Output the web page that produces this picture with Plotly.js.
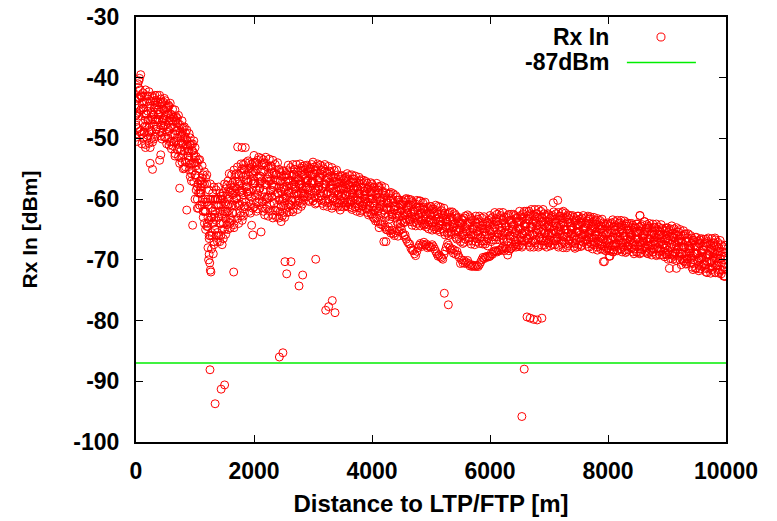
<!DOCTYPE html>
<html><head><meta charset="utf-8">
<script src="https://cdn.plot.ly/plotly-3.0.1.min.js"></script>
<style>html,body{margin:0;padding:0;background:#fff}#chart{width:777px;height:521px}</style>
</head><body><div id="chart"></div>
<script>
// Distance to LTP/FTP [m] sample positions (shared by the four reading passes)
const distance = [
0,20,40,60,80,100,120,140,160,180,200,220,240,260,280,300,320,340,360,380,400,420,440,460,480,
500,520,540,560,580,600,620,640,660,680,700,720,740,760,780,800,820,840,860,880,900,920,940,960,980,
1000,1020,1040,1060,1080,1100,1120,1140,1160,1180,1200,1220,1240,1260,1280,1300,1320,1340,1360,1380,1400,1420,1440,1460,1480,
1500,1520,1540,1560,1580,1600,1620,1640,1660,1680,1700,1720,1740,1760,1780,1800,1820,1840,1860,1880,1900,1920,1940,1960,1980,
2000,2020,2040,2060,2080,2100,2120,2140,2160,2180,2200,2220,2240,2260,2280,2300,2320,2340,2360,2380,2400,2420,2440,2460,2480,
2500,2520,2540,2560,2580,2600,2620,2640,2660,2680,2700,2720,2740,2760,2780,2800,2820,2840,2860,2880,2900,2920,2940,2960,2980,
3000,3020,3040,3060,3080,3100,3120,3140,3160,3180,3200,3220,3240,3260,3280,3300,3320,3340,3360,3380,3400,3420,3440,3460,3480,
3500,3520,3540,3560,3580,3600,3620,3640,3660,3680,3700,3720,3740,3760,3780,3800,3820,3840,3860,3880,3900,3920,3940,3960,3980,
4000,4020,4040,4060,4080,4100,4120,4140,4160,4180,4200,4220,4240,4260,4280,4300,4320,4340,4360,4380,4400,4420,4440,4460,4480,
4500,4520,4540,4560,4580,4600,4620,4640,4660,4680,4700,4720,4740,4760,4780,4800,4820,4840,4860,4880,4900,4920,4940,4960,4980,
5000,5020,5040,5060,5080,5100,5120,5140,5160,5180,5200,5220,5240,5260,5280,5300,5320,5340,5360,5380,5400,5420,5440,5460,5480,
5500,5520,5540,5560,5580,5600,5620,5640,5660,5680,5700,5720,5740,5760,5780,5800,5820,5840,5860,5880,5900,5920,5940,5960,5980,
6000,6020,6040,6060,6080,6100,6120,6140,6160,6180,6200,6220,6240,6260,6280,6300,6320,6340,6360,6380,6400,6420,6440,6460,6480,
6500,6520,6540,6560,6580,6600,6620,6640,6660,6680,6700,6720,6740,6760,6780,6800,6820,6840,6860,6880,6900,6920,6940,6960,6980,
7000,7020,7040,7060,7080,7100,7120,7140,7160,7180,7200,7220,7240,7260,7280,7300,7320,7340,7360,7380,7400,7420,7440,7460,7480,
7500,7520,7540,7560,7580,7600,7620,7640,7660,7680,7700,7720,7740,7760,7780,7800,7820,7840,7860,7880,7900,7920,7940,7960,7980,
8000,8020,8040,8060,8080,8100,8120,8140,8160,8180,8200,8220,8240,8260,8280,8300,8320,8340,8360,8380,8400,8420,8440,8460,8480,
8500,8520,8540,8560,8580,8600,8620,8640,8660,8680,8700,8720,8740,8760,8780,8800,8820,8840,8860,8880,8900,8920,8940,8960,8980,
9000,9020,9040,9060,9080,9100,9120,9140,9160,9180,9200,9220,9240,9260,9280,9300,9320,9340,9360,9380,9400,9420,9440,9460,9480,
9500,9520,9540,9560,9580,9600,9620,9640,9660,9680,9700,9720,9740,9760,9780,9800,9820,9840,9860,9880,9900,9920,9940,9960,9980
];
// Rx In [dBm], reading pass 1
const rxPass1 = [
-43.8,-48.2,-43.2,-48.9,-45.3, -43.2,-50.0,-46.0,-42.0,-48.0, -45.5,-50.8,-43.8,-48.8,-46.8, -50.1,-44.5,-48.5,-42.9,-46.9, -45.7,-49.6,-44.3,-48.3,-45.3,
-43.8,-48.9,-46.0,-51.1,-48.2, -46.1,-51.2,-48.2,-45.3,-50.4, -48.7,-53.0,-47.7,-52.0,-50.7, -55.0,-49.7,-53.9,-48.6,-52.9, -52.0,-56.3,-51.0,-55.3,-52.4,
-54,-58.5,-54,-61.5,-57, -59,-54.5,-62,-57.5,-65, -60.5,-63,-58.5,-66,-61.5, -64,-58,-62,-66,-60, -63,-67,-61,-65,-59,
-57.5,-63.3,-59.2,-65.0,-60.8, -57.7,-63.5,-59.3,-55.2,-61.0, -58.3,-63.2,-56.0,-60.8,-58.7, -63.5,-56.3,-61.2,-54.0,-58.8, -57.2,-62.0,-54.8,-59.7,-55.5,
-55.3,-59.4,-54.5,-61.6,-56.6, -58.2,-53.3,-60.4,-55.5,-62.6, -57.6,-59.7,-54.8,-61.9,-57.0, -59.6,-53.6,-57.7,-61.8,-55.9, -59.0,-63.1,-57.1,-61.2,-55.3,
-55.4,-60.7,-57.1,-62.2,-58.7, -56.1,-61.1,-57.7,-54.3,-59.2, -57.1,-61.0,-55.5,-59.1,-57.6, -61.2,-56.0,-59.5,-54.5,-58.0, -56.9,-60.2,-55.3,-58.6,-56.0,
-55.8,-58.9,-55.2,-60.6,-56.8, -58.0,-54.4,-59.5,-56.0,-61.1, -57.5,-59.1,-55.6,-60.6,-57.2, -59.0,-54.8,-57.7,-60.4,-56.4, -58.6,-61.3,-57.3,-60.1,-56.2,
-56.1,-59.8,-57.4,-61.1,-58.8, -56.8,-60.9,-58.5,-56.0,-59.7, -58.2,-61.3,-57.2,-60.2,-59.0, -62.2,-58.0,-61.1,-56.9,-59.9, -59.2,-62.2,-58.1,-61.1,-58.8,
-57.5,-60.6,-58.7,-61.8,-59.9, -58.5,-61.6,-59.7,-57.8,-60.9, -59.8,-62.4,-59.0,-61.6,-60.7, -63.3,-59.9,-62.5,-59.1,-61.7, -61.1,-63.7,-60.2,-62.8,-61.0,
-60.9,-62.7,-60.5,-63.7,-61.5, -62.3,-60.0,-63.3,-61.0,-64.3, -62.0,-63.0,-60.8,-64.0,-61.9, -63.0,-60.3,-62.2,-64.0,-61.4, -62.8,-64.6,-61.9,-63.8,-61.2,
-61.2,-63.9,-62.2,-64.9,-63.3, -61.9,-64.7,-63.0,-61.3,-64.1, -63.1,-65.4,-62.3,-64.6,-63.8, -66.0,-63.0,-65.4,-62.1,-64.6, -64.0,-66.3,-63.2,-65.4,-63.9,
-64.0,-66.0,-63.5,-67.1,-64.6, -65.3,-62.6,-66.4,-63.9,-67.4, -64.9,-65.9,-63.5,-67.0,-64.5, -65.8,-62.8,-64.8,-66.9,-63.9, -65.4,-67.4,-64.4,-66.5,-63.5,
-62.7,-65.7,-63.7,-66.7,-64.7, -63.2,-66.2,-64.2,-62.2,-65.2, -64.0,-66.5,-63.0,-65.5,-64.5, -67.0,-63.5,-66.0,-62.5,-65.0, -64.2,-66.7,-63.2,-65.7,-63.7,
-63.7,-66.3,-63.0,-67.6,-64.3, -65.3,-62.0,-66.6,-63.3,-67.9, -64.6,-65.9,-62.7,-67.2,-64.0, -65.6,-61.7,-64.3,-66.9,-63.0, -65.0,-67.6,-63.7,-66.3,-62.4,
-62.6,-66.2,-63.8,-67.5,-65.1, -63.3,-66.9,-64.5,-62.2,-65.8, -64.3,-67.3,-63.1,-66.2,-65.0, -68.0,-63.8,-66.8,-62.7,-65.7, -64.8,-67.8,-63.6,-66.7,-64.3,
-64.2,-66.4,-63.7,-67.6,-64.9, -65.7,-63.1,-66.8,-64.2,-67.9, -65.2,-66.4,-63.8,-67.5,-64.8, -66.1,-63.2,-65.4,-67.6,-64.4, -66.1,-68.3,-65.0,-67.3,-64.1,
-63.9,-67.2,-65.0,-68.4,-66.2, -64.5,-67.8,-65.6,-63.5,-66.8, -65.4,-68.2,-64.3,-67.2,-66.1, -68.8,-65.0,-67.7,-64.0,-66.7, -65.9,-68.7,-64.8,-67.6,-65.4,
-65.5,-67.7,-62.7,-68.8,-66.1, -66.9,-63.7,-68.0,-65.4,-69.0, -66.5,-67.6,-64.8,-68.7,-65.9, -67.4,-64.1,-66.4,-68.6,-65.3, -67.0,-69.2,-65.9,-68.1,-64.8,
-64.7,-68.4,-66.1,-69.8,-67.4, -65.7,-69.4,-67.1,-64.7,-68.4, -66.9,-70.0,-66.0,-69.0,-67.9, -70.3,-66.9,-69.8,-65.7,-68.9, -68.1,-71.2,-66.8,-70.0,-67.8,
-67.8,-70.2,-67.3,-71.5,-68.6, -69.5,-66.6,-70.8,-67.8,-72.1, -69.1,-70.4,-67.4,-71.6,-68.7, -70.2,-66.7,-69.1,-71.6,-68.0, -69.8,-72.3,-68.7,-71.2,-67.6
];
// Rx In [dBm], reading pass 2
const rxPass2 = [
-47.8,-43.4,-48.4,-43.4,-39.5, -50.9,-45.0,-49.0,-47.0,-43.0, -49.5,-44.7,-51.5,-46.5,-43.9, -47.7,-42.9,-49.3,-45.3,-46.9, -48.9,-43.5,-47.4,-45.2,-49.8,
-47.8,-44.9,-50.0,-47.1,-44.2, -51.7,-47.2,-50.6,-49.3,-46.4, -51.9,-48.2,-54.1,-50.4,-48.3, -52.6,-48.1,-54.7,-51.0,-52.9, -55.2,-49.9,-54.2,-52.1,-57.2,
-60,-54.5,-58,-53.5,-61, -59,-57.5,-63,-55.5,-62, -57.5,-61,-66.5,-60,-65.5, -59,-63,-65,-61,-67, -58,-62,-66,-60,-64,
-62.5,-58.3,-64.2,-60.0,-55.8, -64.7,-58.5,-62.3,-60.2,-56.0, -62.3,-57.2,-64.0,-58.8,-55.7, -60.5,-54.3,-62.2,-57.0,-58.8, -61.2,-54.0,-58.8,-55.7,-61.5,
-61.3,-55.4,-58.5,-53.6,-60.6, -58.2,-56.3,-61.4,-53.5,-59.6, -54.6,-57.7,-62.8,-55.9,-61.0, -54.6,-58.6,-60.7,-56.8,-62.9, -54.0,-58.1,-62.1,-56.2,-60.3,
-59.9,-56.3,-61.5,-57.9,-54.4, -62.1,-56.9,-60.2,-58.4,-55.1, -60.3,-56.3,-61.7,-57.6,-55.3, -59.0,-54.6,-60.2,-56.6,-58.0, -59.6,-54.8,-58.0,-56.0,-59.9,
-60.3,-55.9,-58.2,-54.6,-59.8, -58.0,-56.5,-60.2,-54.6,-59.0, -55.4,-57.6,-61.2,-56.4,-60.0, -55.5,-58.3,-59.8,-57.0,-61.1, -55.2,-58.0,-60.7,-56.7,-59.5,
-59.1,-56.8,-60.5,-58.2,-55.8, -61.3,-57.9,-60.4,-59.0,-56.7, -60.7,-57.8,-62.0,-59.1,-57.4, -60.4,-56.8,-61.7,-58.7,-60.0, -61.6,-57.4,-60.5,-58.8,-62.4,
-60.0,-58.1,-61.2,-59.3,-57.4, -62.0,-58.1,-60.2,-60.3,-58.7, -61.8,-59.4,-63.0,-60.6,-59.2, -61.8,-58.9,-62.9,-60.6,-61.7, -63.1,-59.7,-62.3,-60.9,-64.0,
-63.6,-60.9,-62.3,-60.1,-63.3, -62.3,-61.4,-63.7,-60.1,-62.9, -60.7,-62.1,-64.4,-61.3,-63.6, -60.3,-62.3,-63.4,-61.6,-64.3, -60.5,-62.4,-64.2,-61.6,-63.4,
-63.4,-61.7,-64.5,-62.8,-61.0, -65.1,-62.5,-64.4,-63.6,-61.9, -64.9,-62.7,-65.9,-63.7,-62.5, -64.8,-62.1,-65.8,-63.7,-64.7, -65.8,-62.7,-65.0,-63.7,-66.5,
-67.0,-64.0,-65.5,-63.1,-66.6, -65.4,-64.4,-66.9,-62.9,-65.9, -63.5,-65.0,-67.5,-64.0,-66.5, -63.3,-65.3,-66.3,-64.4,-67.4, -62.9,-64.9,-66.9,-63.9,-66.0,
-65.2,-63.2,-66.2,-64.2,-62.2, -66.7,-63.7,-65.7,-64.7,-62.7, -66.0,-63.5,-67.0,-64.5,-63.0, -65.5,-62.5,-66.5,-64.0,-65.0, -66.2,-62.7,-65.2,-63.7,-66.7,
-67.6,-63.7,-65.6,-62.4,-66.9, -65.3,-64.0,-67.2,-62.0,-65.9, -62.7,-64.6,-67.9,-63.3,-66.6, -62.4,-65.0,-66.3,-63.7,-67.6, -61.7,-64.3,-66.9,-63.0,-65.6,
-65.6,-63.2,-66.8,-64.5,-62.1, -67.5,-63.9,-66.3,-65.2,-62.8, -66.7,-63.7,-68.0,-65.0,-63.2, -66.2,-62.6,-67.4,-64.5,-65.7, -67.2,-63.0,-66.0,-64.3,-67.9,
-67.5,-64.2,-65.8,-63.1,-67.1, -65.7,-64.7,-67.4,-62.8,-66.3, -63.2,-65.0,-68.2,-64.5,-67.1, -63.5,-65.9,-66.9,-64.9,-68.2, -63.3,-65.6,-67.8,-64.5,-66.8,
-66.6,-64.4,-67.7,-65.6,-63.4, -68.4,-65.1,-67.3,-66.2,-64.0, -67.6,-64.9,-68.7,-66.1,-64.4, -67.2,-63.9,-68.3,-65.6,-66.7, -68.1,-64.3,-67.1,-65.4,-68.7,
-68.8,-65.5,-67.1,-64.4,-68.3, -66.9,-65.8,-68.6,-64.2,-67.6, -64.8,-66.5,-69.2,-65.5,-68.2, -64.7,-67.1,-68.0,-65.8,-69.2, -64.2,-66.5,-68.6,-65.3,-67.6,
-67.7,-65.4,-69.0,-66.7,-64.4, -69.9,-66.4,-68.9,-67.7,-65.4, -69.4,-66.5,-70.8,-67.8,-66.0, -69.3,-65.7,-70.6,-67.7,-68.9, -70.5,-66.4,-69.4,-67.6,-71.4,
-71.4,-67.8,-69.7,-66.7,-71.0, -69.5,-68.4,-71.4,-66.6,-70.3, -67.3,-69.2,-72.2,-68.1,-71.1, -67.2,-69.7,-70.9,-68.6,-72.2, -66.8,-69.3,-71.7,-68.2,-70.6
];
// Rx In [dBm], reading pass 3
const rxPass3 = [
-46.2,-50.5,-41.6,-45.6,-48.7, -44.3,-42.5,-49.0,-51.0,-44.0, -47.0,-42.3,-48.6,-45.7,-50.6, -43.3,-46.9,-48.5,-44.5,-46.1, -42.9,-47.8,-50.1,-44.0,-46.8,
-46.2,-50.9,-44.8,-48.7,-50.6, -46.9,-45.2,-50.6,-52.5,-47.2, -49.9,-46.2,-51.7,-49.6,-53.9, -48.2,-52.1,-53.9,-50.2,-52.1, -49.2,-54.3,-57.0,-50.9,-54.0,
-56,-53,-61.5,-59,-53.5, -58,-56.5,-62,-60.5,-56.5, -64.5,-60,-63.5,-57.5,-63, -60,-67,-65,-58.5,-61, -66,-64,-59.5,-67.5,-62,
-60.5,-65.8,-57.7,-62.0,-63.8, -58.7,-56.0,-62.3,-64.2,-57.0, -59.8,-54.7,-61.0,-57.8,-62.7, -55.0,-59.3,-61.2,-56.0,-57.8, -53.7,-59.5,-62.3,-54.2,-57.5,
-57.3,-53.9,-62.0,-59.1,-53.1, -57.2,-55.3,-60.4,-58.5,-54.1, -61.6,-56.7,-59.8,-53.4,-58.5, -55.6,-62.6,-60.7,-54.3,-56.9, -62.0,-60.1,-55.6,-63.7,-58.3,
-58.1,-63.0,-55.8,-59.6,-61.3, -57.0,-54.8,-60.2,-61.7,-55.9, -58.3,-54.3,-59.4,-56.9,-60.6, -54.9,-58.2,-59.5,-55.9,-57.3, -54.4,-58.5,-60.4,-55.0,-57.3,
-57.3,-54.7,-60.8,-58.7,-54.2, -57.3,-55.8,-59.5,-58.2,-55.0, -60.4,-56.9,-59.1,-54.6,-58.2, -56.2,-61.1,-59.8,-55.3,-57.1, -60.6,-59.3,-56.3,-61.8,-58.2,
-57.9,-61.3,-56.6,-59.3,-60.6, -57.6,-56.1,-60.1,-61.4,-57.3, -59.1,-56.2,-60.2,-58.4,-61.4, -57.0,-59.8,-61.1,-58.1,-59.4, -57.1,-60.7,-62.6,-57.9,-60.0,
-59.0,-61.9,-58.0,-60.3,-61.4, -59.0,-57.9,-61.2,-62.3,-58.9, -60.5,-58.1,-61.5,-60.1,-62.7, -59.1,-61.4,-62.5,-60.1,-61.2, -59.4,-62.5,-64.1,-60.1,-62.0,
-61.8,-60.3,-63.9,-62.7,-59.9, -61.8,-60.9,-63.4,-62.4,-60.4, -63.8,-61.7,-63.0,-60.2,-62.6, -61.3,-64.4,-63.6,-60.6,-61.8, -64.1,-63.3,-61.3,-64.9,-62.5,
-62.5,-65.1,-61.6,-63.7,-64.6, -62.4,-61.2,-64.2,-65.4,-62.3, -63.7,-61.5,-64.5,-63.3,-65.6, -62.3,-64.4,-65.4,-63.1,-64.1, -62.4,-65.2,-66.6,-63.0,-64.8,
-65.0,-63.3,-67.3,-65.8,-62.8, -64.9,-63.9,-66.4,-65.4,-63.2, -66.9,-64.5,-66.0,-62.8,-65.3, -63.8,-67.3,-66.3,-63.1,-64.9, -66.9,-65.9,-63.7,-67.7,-65.0,
-64.2,-67.0,-63.0,-65.2,-66.2, -63.7,-62.5,-65.7,-66.7,-63.2, -64.7,-62.2,-65.5,-64.0,-66.5, -62.7,-65.0,-66.0,-63.5,-64.5, -62.5,-65.5,-67.0,-63.0,-64.7,
-65.0,-62.7,-67.9,-65.9,-62.0, -64.6,-63.3,-66.6,-65.3,-62.4, -67.2,-64.0,-65.9,-61.7,-65.0, -63.0,-67.6,-66.3,-62.0,-63.7, -66.9,-65.6,-62.7,-67.9,-64.3,
-64.4,-67.7,-62.9,-65.7,-66.9, -63.9,-62.4,-66.3,-67.6,-63.4, -65.2,-62.2,-66.2,-64.4,-67.4, -62.9,-65.6,-66.8,-63.9,-65.1, -62.7,-66.3,-68.1,-63.4,-65.5,
-65.3,-63.3,-67.8,-66.2,-62.7, -65.0,-64.0,-66.8,-65.8,-63.3, -67.1,-64.4,-66.6,-63.0,-65.8, -64.1,-67.9,-67.0,-63.5,-64.9, -67.7,-66.6,-64.1,-68.5,-65.7,
-65.5,-68.5,-64.1,-66.7,-67.8, -65.1,-63.7,-67.3,-68.4,-64.6, -66.3,-63.5,-67.2,-65.6,-68.4, -64.1,-66.6,-67.8,-65.1,-66.2, -64.0,-67.3,-69.0,-64.6,-66.5,
-66.6,-64.6,-69.0,-67.5,-64.2, -66.4,-65.3,-68.0,-67.0,-64.5, -68.7,-65.9,-67.6,-64.1,-66.9, -65.2,-69.1,-68.1,-64.6,-65.9, -68.6,-67.5,-65.0,-69.5,-66.5,
-66.5,-69.9,-65.1,-67.9,-69.2, -66.3,-64.9,-68.7,-70.1,-66.0, -67.9,-65.0,-69.0,-67.1,-70.2, -65.8,-68.7,-69.9,-67.0,-68.2, -66.0,-69.7,-71.6,-66.8,-69.0,
-69.0,-66.9,-71.8,-70.0,-66.5, -68.9,-67.8,-70.8,-69.6,-67.0, -71.5,-68.6,-70.4,-66.5,-69.6, -67.8,-72.1,-71.0,-67.1,-68.6, -71.6,-70.5,-67.8,-72.7,-69.4
];
// Rx In [dBm], reading pass 4 (holds the separate lower branch 4000–6500 m)
const rxPass4 = [
-49.8,-45.8,-46.3,-40.1,-43.0, -49.3,-47.5,-44.0,-51.5,-46.0, -43.0,-48.1,-54.1,-50.0,-55.1, -46.1,-49.7,-43.7,-48.1,-45.3, -53.6,-52.7,-49.0,-46.7,-43.4,
-49.8,-46.9,-48.4,-44.7,-46.6, -50.5,-49.2,-46.6,-52.9,-48.8, -46.7,-51.0,-58.2,-53.2,-47.1, -51.0,-54.9,-49.1,-61.8,-51.3, -53.6,-51.1,-55.8,-64.3,-50.4,
-51.5,-56.5,-60,-55,-59, -57,-61,-56,-64,-60, -56,-64.5,-69.1,-71.7,-68.2, -62,-67.5,-60,-63.5,-65.5, -61,-59,-64,-62.5,-66.5,
-65.0,-60.8,-62.2,-57.0,-58.8, -63.2,-61.0,-57.3,-64.7,-59.0, -55.8,-60.7,-57.5,-62.3,-54.2, -58.5,-62.8,-55.2,-60.5,-56.8, -59.2,-55.5,-60.8,-64.3,-65.9,
-52.8,-57.4,-60.5,-55.1,-58.6, -56.2,-65.4,-54.4,-62.0,-57.6, -53.1,-61.2,-56.3,-59.4,-54.5, -57.6,-63.1,-55.7,-59.3,-61.4, -57.0,-55.1,-60.1,-58.7,-62.8,
-62.2,-58.5,-59.8,-55.3,-57.0, -60.8,-59.0,-56.1,-62.1,-57.5, -55.1,-59.0,-56.6,-60.3,-54.2, -57.5,-60.8,-55.2,-59.1,-56.6, -58.2,-55.8,-59.4,-57.3,-54.3,
-53.9,-57.4,-59.7,-55.7,-58.3, -56.5,-59.0,-55.2,-60.7,-57.5, -54.3,-60.2,-56.6,-58.8,-55.4, -57.6,-61.5,-56.3,-58.7,-60.1, -57.2,-56.0,-59.3,-58.4,-61.2,
-60.6,-58.3,-59.2,-56.4,-57.6, -60.4,-59.3,-57.2,-61.7,-58.5, -56.7,-59.8,-58.1,-61.1,-56.4, -59.2,-61.9,-57.4,-60.8,-58.7, -60.4,-58.3,-61.7,-59.9,-57.3,
-62.5,-63.0,-63.2,-63.6,-63.1, -63.7,-64.7,-64.1,-63.7,-64.3, -67.0,-64.6,-65.0,-65.1,-64.6, -65.2,-65.6,-65.1,-65.7,-66.0, -65.5,-65.2,-66.1,-65.3,-64.6,
-65.0,-65.6,-66.1,-65.9,-66.6, -67.0,-67.3,-67.4,-68.1,-68.4, -68.5,-69.0,-69.3,-68.6,-68.0, -67.6,-67.3,-67.8,-67.5,-67.1, -67.6,-67.4,-68.0,-67.7,-67.9,
-67.9,-67.5,-67.8,-68.2,-68.6, -69.0,-69.4,-69.2,-69.5,-69.7, -69.9,-69.1,-68.5,-67.9,-67.3, -67.6,-68.0,-68.4,-68.2,-68.9, -68.4,-69.1,-68.6,-69.2,-69.6,
-70.6,-70.0,-70.5,-70.1,-70.6, -70.4,-70.1,-70.6,-71.0,-70.8, -71.1,-70.9,-71.0,-71.1,-70.9, -71.1,-70.8,-70.4,-70.0,-69.6, -69.8,-69.5,-69.6,-69.4,-69.5,
-69.4,-69.0,-69.1,-68.7,-68.5, -68.6,-68.7,-68.4,-68.5,-68.4, -68.1,-67.9,-68.5,-68.0,-68.2, -69.2,-68.5,-68.2,-68.1,-67.9, -67.7,-67.4,-67.9,-67.5,-67.8,
-62.0,-65.0,-66.9,-63.3,-65.6, -64.0,-66.3,-62.7,-67.6,-64.6, -61.7,-66.9,-63.7,-65.6,-62.4, -64.3,-67.9,-63.0,-65.3,-66.6, -63.7,-62.4,-65.6,-64.6,-67.2,
-67.1,-64.7,-65.6,-62.7,-63.9, -66.6,-65.4,-63.3,-67.9,-64.6, -62.8,-65.8,-64.0,-67.1,-62.3, -65.0,-67.7,-63.2,-66.6,-64.5, -66.0,-63.9,-67.3,-65.5,-62.8,
-62.8,-65.3,-66.9,-64.0,-65.9, -64.6,-66.6,-63.6,-67.8,-65.4, -62.9,-67.4,-64.7,-66.4,-63.7, -65.4,-68.4,-64.3,-66.3,-67.4, -64.9,-63.9,-70.3,-65.9,-68.2,
-68.0,-69.4,-66.6,-63.9,-68.7, -67.5,-66.4,-64.4,-68.5,-65.5, -63.9,-66.8,-65.2,-67.9,-63.6, -66.1,-68.6,-64.4,-67.5,-65.7, -67.1,-65.2,-68.2,-66.6,-64.1,
-64.1,-66.6,-68.2,-65.3,-67.2, -65.8,-67.8,-64.8,-68.9,-66.5, -64.0,-68.4,-65.7,-67.1,-64.6, -66.3,-69.3,-65.2,-67.2,-68.2, -65.9,-64.8,-67.5,-66.8,-69.0,
-69.2,-66.9,-71.4,-64.9,-66.2, -69.0,-67.8,-65.7,-71.4,-67.1, -65.4,-68.8,-66.9,-69.9,-65.2, -67.9,-70.7,-66.4,-69.8,-67.8, -69.3,-67.3,-70.6,-68.9,-66.3,
-66.3,-69.0,-70.9,-67.3,-69.8, -68.3,-70.7,-67.2,-72.0,-69.1, -66.4,-71.3,-68.3,-70.1,-67.2, -68.9,-72.1,-67.7,-69.8,-70.8, -68.6,-67.5,-70.9,-70.0,-72.7
];
// Scattered readings and outliers
const sparseDistance = [
10,30,50,70,90,110,130,150,170,190,210,230,250,270,290,310,330,350,370,390,410,430,450,470,
510,550,590,630,670,710,750,790,830,870,910,950,990,
1010,1050,1090,1130,1170,1210,1230,1250,1270,1290,1310,1330,1350,1390,1430,1470,1220,1240,1280,
1254,1341,1443,1502,
1656,1723,1797,1853,1510,1550,1590,1630,1670,1710,1750,1790,1830,1870,1910,1950,1990,
2010,2050,2090,2130,2170,2210,2250,2290,2330,2370,2410,2450,2490,2430,2490,
2525,2554,2627,2763,2825,2510,2550,2590,2630,2670,2710,2750,2790,2830,2870,2910,2950,2990,
3046,3215,3265,3327,3373,
4237,5226,5294,
6540,6580,6627,6680,6740,6800,6880,
7073,7148,7243,7921,8034,8091,8543,8616,9814,9984
];
const sparseRx = [
-46,-41,-40.5,-42,-43,-44,-45,-48,-46,-50,-47,-49,-47,-43,-46,-45,-44,-47,-44,-46,-44,-44,-47,-48,
-45,-44.5,-46,-46.5,-47,-47.5,-49,-49,-50,-50.5,-51,-52,-53,
-56,-57.5,-58.5,-60,-62,-64,-70,-70.5,-72,-66,-69,-62.5,-60,-60,-60,-59.5,-68,-66,-63,
-88.1,-93.7,-91.3,-90.6,
-72,-51.4,-51.5,-51.5,-62,-61,-64,-59,-58,-60,-57,-59,-55,-58,-55,-57,-54,
-57,-54,-60,-57,-54,-60,-57,-55,-58,-56,-59,-57,-60,-86,-85.3,
-70.3,-72.3,-70.3,-74.3,-72.5,-58,-56,-59,-61,-56,-58,-60,-57,-59,-55,-57,-55,-57,
-69.9,-78.3,-77.7,-76.7,-78.7,
-67.0,-75.5,-77.4,
-95.8,-88,-79.4,-79.6,-79.8,-79.9,-79.6,
-60.6,-60.2,-62,-70.3,-69.4,-68.7,-62.7,-63.7,-66.4,-72.7
];
const thresholdDistance = [0, 10000];
const thresholdRx = [-87, -87];
const seriesNames = ['Rx In', '-87dBm'];
const xTickVals = [0, 2000, 4000, 6000, 8000, 10000];
const xTickText = ['0', '2000', '4000', '6000', '8000', '10000'];
const yTickVals = [-100, -90, -80, -70, -60, -50, -40, -30];
const yTickText = ['-100', '-90', '-80', '-70', '-60', '-50', '-40', '-30'];

const allX = [].concat(distance, distance, distance, distance, sparseDistance);
const allY = [].concat(rxPass1, rxPass2, rxPass3, rxPass4, sparseRx);

const RED = '#ff0000';
const GREEN = '#00ee00';
const FAM = 'Liberation Sans, Arial, Helvetica, sans-serif';
const tickFont = {family: FAM, size: 23, color: '#000', weight: 700};
const xTitleFont = {family: FAM, size: 24, color: '#000', weight: 700};
const yTitleFont = {family: FAM, size: 21, color: '#000', weight: 700};
const legendFont = {family: FAM, size: 23, color: '#000', weight: 700};

const traces = [
  {x: allX, y: allY, name: seriesNames[0], type: 'scatter', mode: 'markers',
   marker: {symbol: 'circle-open', size: 8, color: RED, line: {width: 1, color: RED}}},
  {x: thresholdDistance, y: thresholdRx, name: seriesNames[1], type: 'scatter', mode: 'lines',
   line: {color: GREEN, width: 1.5}}
];

const axisCommon = {
  ticks: 'inside', ticklen: 7, tickwidth: 1, tickcolor: '#000',
  showline: true, linewidth: 2, linecolor: '#000', mirror: 'ticks',
  showgrid: false, zeroline: false, tickfont: tickFont
};

const layout = {
  width: 777, height: 521,
  margin: {l: 136, r: 51, t: 17, b: 79},
  paper_bgcolor: '#fff', plot_bgcolor: '#fff',
  showlegend: false, font: tickFont,
  xaxis: Object.assign({}, axisCommon, {
    range: [0, 10000], tickmode: 'array', tickvals: xTickVals, ticktext: xTickText,
    ticklabelstandoff: 7,
    title: {text: 'Distance to LTP/FTP [m]', font: xTitleFont, standoff: 13}
  }),
  yaxis: Object.assign({}, axisCommon, {
    range: [-100, -30], tickmode: 'array', tickvals: yTickVals, ticktext: yTickText,
    ticklabelstandoff: 10,
    title: {text: 'Rx In [dBm]', font: yTitleFont, standoff: 30}
  }),
  annotations: [
    {xref: 'paper', yref: 'paper', x: 0.805, y: 0.953, xanchor: 'right', yanchor: 'middle',
     text: seriesNames[0], showarrow: false, font: legendFont},
    {xref: 'paper', yref: 'paper', x: 0.805, y: 0.894, xanchor: 'right', yanchor: 'middle',
     text: seriesNames[1], showarrow: false, font: legendFont}
  ],
  shapes: [
    {type: 'circle', xref: 'paper', yref: 'paper', x0: 0.8830, x1: 0.8966, y0: 0.9435, y1: 0.9623,
     line: {color: RED, width: 1}},
    {type: 'line', xref: 'paper', yref: 'paper', x0: 0.832, x1: 0.949, y0: 0.8929, y1: 0.8929,
     line: {color: GREEN, width: 1.5}}
  ]
};

Plotly.newPlot('chart', traces, layout, {displayModeBar: false, staticPlot: true});
</script>
</body></html>
